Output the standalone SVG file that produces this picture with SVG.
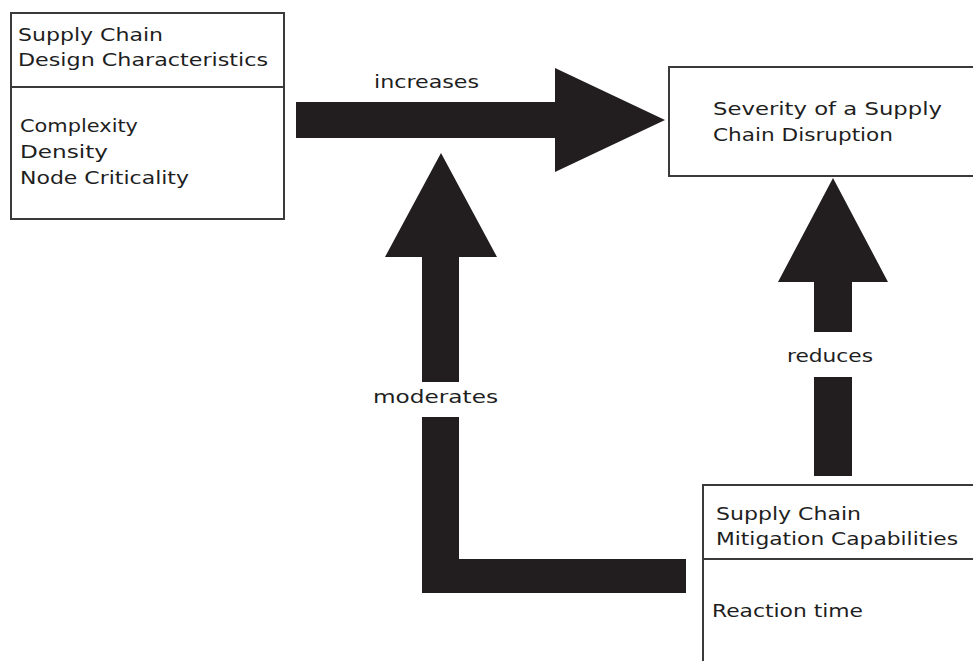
<svg xmlns="http://www.w3.org/2000/svg" width="973" height="661" viewBox="0 0 973 661">
<style>
.box{fill:#fff;stroke:#3a3a3a;stroke-width:2}
.div{stroke:#3a3a3a;stroke-width:2}
.t{font-family:"DejaVu Sans","Verdana",sans-serif;font-size:18.5px;fill:#1e1e1e}
.arr{fill:#221e1f}
</style>
<rect x="0" y="0" width="973" height="661" fill="#fff"/>
<g id="connectors">
<polygon class="arr" points="296,102 555,102 555,68 665,120 555,172 555,138 296,138"/>
<polygon class="arr" points="441,153 497,257 459,257 459,382 422,382 422,257 385,257"/>
<polygon class="arr" points="422,417 459,417 459,559 686,559 686,593 422,593"/>
<polygon class="arr" points="833,178 888,282 852,282 852,332 814,332 814,282 778,282"/>
<rect class="arr" x="814" y="377" width="38" height="99"/>
<text class="t" x="374" y="88" textLength="105" lengthAdjust="spacingAndGlyphs">increases</text>
<text class="t" x="373" y="403" textLength="125" lengthAdjust="spacingAndGlyphs">moderates</text>
<text class="t" x="787" y="362" textLength="86" lengthAdjust="spacingAndGlyphs">reduces</text>
</g>
<g id="design">
<rect class="box" x="11" y="13" width="273" height="206"/>
<line class="div" x1="11" y1="87" x2="284" y2="87"/>
<text class="t" x="18" y="41" textLength="145" lengthAdjust="spacingAndGlyphs">Supply Chain</text>
<text class="t" x="18" y="66" textLength="250" lengthAdjust="spacingAndGlyphs">Design Characteristics</text>
<text class="t" x="20" y="132" textLength="118" lengthAdjust="spacingAndGlyphs">Complexity</text>
<text class="t" x="20" y="158" textLength="88" lengthAdjust="spacingAndGlyphs">Density</text>
<text class="t" x="20" y="184" textLength="169" lengthAdjust="spacingAndGlyphs">Node Criticality</text>
</g>
<g id="severity">
<rect class="box" x="669" y="67" width="310" height="109"/>
<text class="t" x="713" y="115" textLength="229" lengthAdjust="spacingAndGlyphs">Severity of a Supply</text>
<text class="t" x="713" y="141" textLength="180" lengthAdjust="spacingAndGlyphs">Chain Disruption</text>
</g>
<g id="mitigation">
<rect class="box" x="703" y="485" width="280" height="190"/>
<line class="div" x1="703" y1="559" x2="983" y2="559"/>
<text class="t" x="716" y="520" textLength="145" lengthAdjust="spacingAndGlyphs">Supply Chain</text>
<text class="t" x="716" y="545" textLength="242" lengthAdjust="spacingAndGlyphs">Mitigation Capabilities</text>
<text class="t" x="712" y="617" textLength="151" lengthAdjust="spacingAndGlyphs">Reaction time</text>
</g>
</svg>
